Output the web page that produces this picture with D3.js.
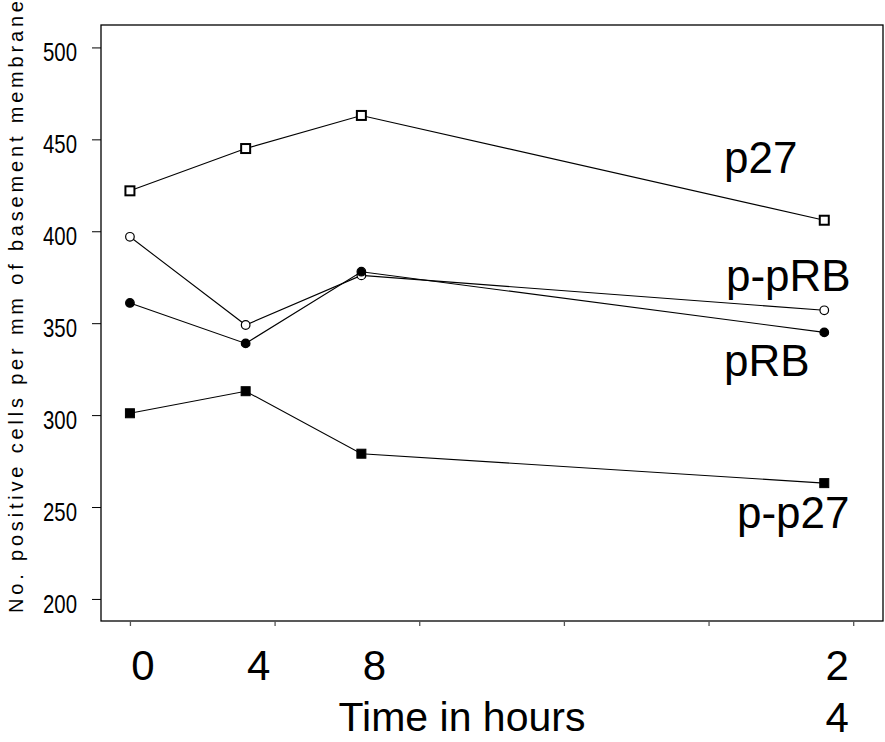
<!DOCTYPE html>
<html>
<head>
<meta charset="utf-8">
<script src="https://cdn.jsdelivr.net/npm/d3@7"></script>
<style>
  html, body { margin: 0; padding: 0; background: #fff; }
  svg { display: block; font-family: "Liberation Sans", Arial, sans-serif; }
</style>
</head>
<body>
<svg id="chart" width="885" height="742"></svg>
<script>
// Time points (hours) and counts per series
const hours = [0, 4, 8, 24];
const hourLabels = ["0", "4", "8", "24"];
const p27 = [422, 445, 463, 406];
const ppRB = [397, 349, 376, 357];
const pRB = [361, 339, 378, 345];
const pp27 = [301, 313, 279, 263];
const yTicks = [200, 250, 300, 350, 400, 450, 500];
const xTicks = [0, 5, 10, 15, 20, 25];

const svg = d3.select("#chart");
const box = { left: 101, top: 25, right: 883, bottom: 621 };

const x = d3.scaleLinear().domain([-1.0, 26.03]).range([box.left, box.right]);
const y = d3.scaleLinear().domain([188, 512.2]).range([box.bottom, box.top]);

// Plot frame
svg.append("rect")
  .attr("x", box.left).attr("y", box.top)
  .attr("width", box.right - box.left).attr("height", box.bottom - box.top)
  .attr("fill", "none").attr("stroke", "#000").attr("stroke-width", 1.3);

// Y axis ticks and labels
const yAxis = svg.append("g").attr("transform", `translate(${box.left},0)`)
  .call(d3.axisLeft(y).tickValues(yTicks).tickSize(9).tickFormat(""));
yAxis.select(".domain").remove();
yAxis.selectAll(".tick line").attr("stroke-width", 1);
svg.append("g").selectAll("text").data(yTicks).join("text")
  .attr("x", 77).attr("y", d => y(d) + 14)
  .attr("text-anchor", "end")
  .attr("font-size", 25)
  .attr("textLength", 34).attr("lengthAdjust", "spacingAndGlyphs")
  .text(d => d);

// X axis ticks
const xAxis = svg.append("g").attr("transform", `translate(0,${box.bottom})`)
  .call(d3.axisBottom(x).tickValues(xTicks).tickSize(5).tickFormat(""));
xAxis.select(".domain").remove();
xAxis.selectAll(".tick line").attr("stroke", "#555").attr("stroke-width", 1.3);

// Time labels (the 24 h label wraps onto two lines)
const xl = svg.append("g").attr("font-size", 42).attr("text-anchor", "middle");
hourLabels.forEach((lab, i) => {
  const cx = x(hours[i]) + 13;
  if (lab.length > 1) {
    lab.split("").forEach((ch, j) => {
      xl.append("text").attr("x", cx).attr("y", 680 + j * 52).text(ch);
    });
  } else {
    xl.append("text").attr("x", cx).attr("y", 680).text(lab);
  }
});

// Axis titles
svg.append("text")
  .attr("x", 462).attr("y", 731)
  .attr("text-anchor", "middle").attr("font-size", 41)
  .text("Time in hours");

svg.append("text")
  .attr("transform", "translate(23,613) rotate(-90)")
  .attr("x", 0).attr("y", 0)
  .attr("font-size", 20)
  .attr("textLength", 612).attr("lengthAdjust", "spacing")
  .text("No. positive cells per mm of basement membrane");

// Series lines and markers
const series = [
  { name: "p27", values: p27, marker: "square", fill: "#fff" },
  { name: "p-pRB", values: ppRB, marker: "circle", fill: "#fff" },
  { name: "pRB", values: pRB, marker: "circle", fill: "#000" },
  { name: "p-p27", values: pp27, marker: "square", fill: "#000" }
];

const line = d3.line().x((d, i) => x(hours[i])).y(d => y(d));

series.forEach(s => {
  svg.append("path").datum(s.values)
    .attr("d", line).attr("fill", "none")
    .attr("stroke", "#000").attr("stroke-width", 1.1);
  const g = svg.append("g");
  if (s.marker === "square") {
    g.selectAll("rect").data(s.values).join("rect")
      .attr("x", (d, i) => x(hours[i]) - 4.5).attr("y", d => y(d) - 4.5)
      .attr("width", 9).attr("height", 9)
      .attr("fill", s.fill).attr("stroke", "#000")
      .attr("stroke-width", s.fill === "#000" ? 1 : 2);
  } else {
    g.selectAll("circle").data(s.values).join("circle")
      .attr("cx", (d, i) => x(hours[i])).attr("cy", d => y(d))
      .attr("r", 4.3)
      .attr("fill", s.fill).attr("stroke", "#000").attr("stroke-width", 1.2);
  }
});

// Series labels
const seriesLabels = [
  { text: "p27", x: 724, y: 173 },
  { text: "p-pRB", x: 726, y: 291 },
  { text: "pRB", x: 724, y: 376 },
  { text: "p-p27", x: 737, y: 528 }
];
svg.append("g").selectAll("text").data(seriesLabels).join("text")
  .attr("x", d => d.x).attr("y", d => d.y)
  .attr("font-size", 44)
  .text(d => d.text);
</script>
</body>
</html>
